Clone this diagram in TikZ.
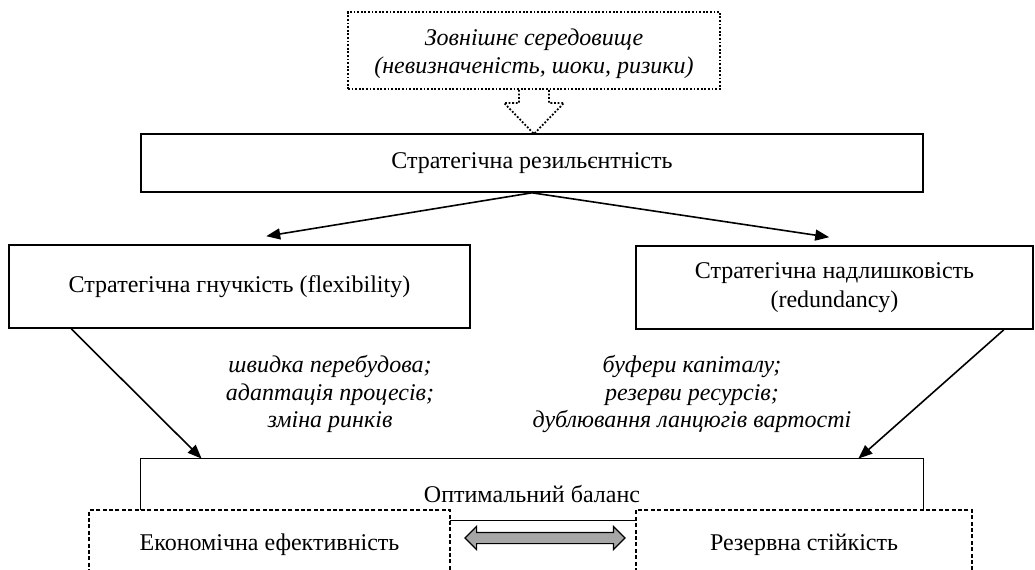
\documentclass[tikz,border=0pt]{standalone}
\usepackage{fontspec}
\setmainfont{Liberation Serif}
\usetikzlibrary{arrows.meta,calc,shapes.arrows}
\begin{document}
\begin{tikzpicture}[x=0.5pt,y=-0.5pt,
  every node/.style={font=\fontsize{12}{13.8}\selectfont, inner sep=0pt},
  box/.style={draw, line width=0.8pt, fill=white, align=center},
  dotline/.style={line width=0.9pt, dash pattern=on 0.9pt off 0.9pt},
  dashbox/.style={draw, line width=0.75pt, dash pattern=on 2pt off 1.2pt, fill=white},
  arr/.style={line width=0.8pt, -{Triangle[length=7pt,width=5.5pt]}},
  note/.style={font=\fontsize{12}{13.8}\selectfont\itshape, align=center}
]
\useasboundingbox (0,0) rectangle (1035,569);
\node[draw, dotline, minimum width=186pt, minimum height=38.5pt] (ext) at (534,50.5) {};
\node[note] (extlabel) at (534,54) {Зовнішнє середовище\\(невизначеність, шоки, ризики)};
\node[box, minimum width=391pt, minimum height=29pt] (res) at (532,163) {Стратегічна резильєнтність};
\node[box, minimum width=230.5pt, minimum height=41.5pt] (flex) at (239.5,286.5) {Стратегічна гнучкість (flexibility)};
\node[box, minimum width=198.5pt, minimum height=41.5pt, font=\fontsize{12}{14.6}\selectfont] (red) at (834.5,287.5) {Стратегічна надлишковість\\(redundancy)};
\node[minimum width=391pt, minimum height=30.5pt] (opt) at (532,489.5) {};
\draw[line width=0.8pt] (opt.south west) -- (opt.north west) -- (opt.north east) -- (opt.south east);
\draw[line width=0.5pt] (opt.south west) -- (opt.south east);
\node[anchor=base] (optlabel) at (532,502) {Оптимальний баланс};
\node[dashbox, minimum width=180.5pt, minimum height=35pt] (eco) at (269.5,545) {Економічна ефективність};
\node[dashbox, minimum width=168pt, minimum height=35pt] (rez) at (804,545) {Резервна стійкість};
\node[draw, line width=0.6pt, fill=gray!70, double arrow, double arrow head extend=3pt, minimum height=80pt, inner sep=2.5pt] (bal) at (545,538) {};
\draw[dotline] ($(ext.south)+(-15,0)$) -- ($(ext.south)+(-15,13)$) -- ($(ext.south)+(-30,13)$) -- ($(ext.south)+(0,44)$) -- ($(ext.south)+(30,13)$) -- ($(ext.south)+(15,13)$) -- ($(ext.south)+(15,0)$);
\node[note] (fl) at (330,394) {швидка перебудова;\\адаптація процесів;\\зміна ринків};
\node[note] (rl) at (692,394) {буфери капіталу;\\резерви ресурсів;\\дублювання ланцюгів вартості};
\draw[arr] (res.south) -- ($(flex.north west)+(258,-8)$);
\draw[arr] (res.south) -- ($(red.north west)+(194,-8)$);
\draw[arr] ($(flex.south west)+(63,0)$) -- ($(opt.north west)+(61,0)$);
\draw[arr] ($(red.south east)+(-30,0)$) -- ($(opt.north east)+(-65,0)$);
\end{tikzpicture}
\end{document}
